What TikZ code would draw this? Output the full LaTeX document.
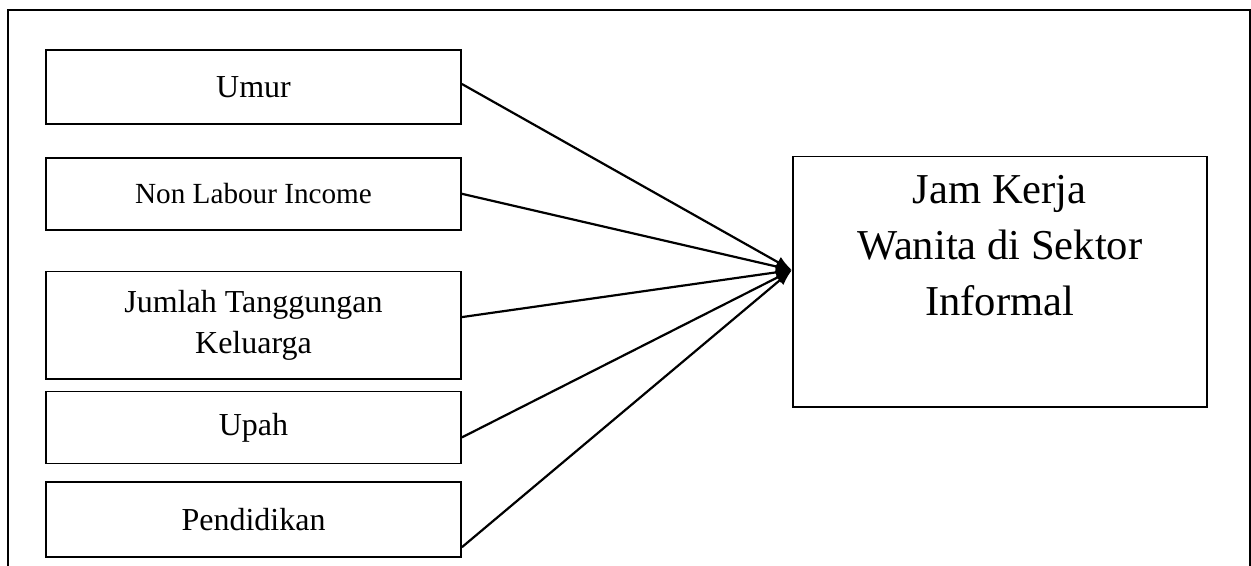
\documentclass[tikz,border=0pt]{standalone}
\usepackage{fontspec}
\setmainfont{Liberation Serif}
\usetikzlibrary{positioning,arrows.meta,calc}
\tikzstyle{var}=[%
      rectangle, draw=black, line width=0.9pt, fill=none,
      minimum width=207.5pt, minimum height=37pt, inner sep=4pt, align=center,
      font=\fontsize{16}{20.5}\selectfont
]
\tikzstyle{dep}=[%
      rectangle, draw=black, line width=0.9pt, fill=none,
      minimum width=207pt, minimum height=125pt, inner sep=4pt, align=center,
      font=\fontsize{21.3}{28}\selectfont
]
\begin{document}
\begin{tikzpicture}[auto,
    line width=1.1pt,
    -{Latex[length=8pt,width=6pt]}
  ]
    \useasboundingbox (0,0) rectangle (625.5pt,-283pt);
    \draw[-, line width=1pt] (4pt,-283pt) |- (625pt,-5pt) -- (625pt,-283pt);
    \node[var] (umur) at (126.75pt,-43.5pt) {Umur};
    \node[var, minimum height=36pt, font=\fontsize{14.6}{18}\selectfont] (noninc) [below = 16pt of umur] {Non Labour Income};
    \node[var, minimum height=53.5pt] (jumlah) [below = 20pt of noninc] {Jumlah Tanggungan\\Keluarga};
    \node[var, minimum height=36pt] (upah) [below = 5.5pt of jumlah] {Upah};
    \node[var, minimum height=37.5pt] (pendidikan) [below = 8.5pt of upah] {Pendidikan};
    \node[dep] (jam) [right = 165pt of jumlah, yshift=21.75pt] {Jam Kerja\\Wanita di Sektor\\Informal\\\strut};
    \coordinate (tip) at ([yshift=5.75pt]jam.west);
    \path ([yshift=1.5pt]umur.east) edge (tip)
          (noninc.east) edge (tip)
          ([yshift=4pt]jumlah.east) edge (tip)
          ([yshift=-5pt]upah.east) edge (tip)
          ([yshift=-13.75pt]pendidikan.east) edge (tip)
    ;
  \end{tikzpicture}
\end{document}
